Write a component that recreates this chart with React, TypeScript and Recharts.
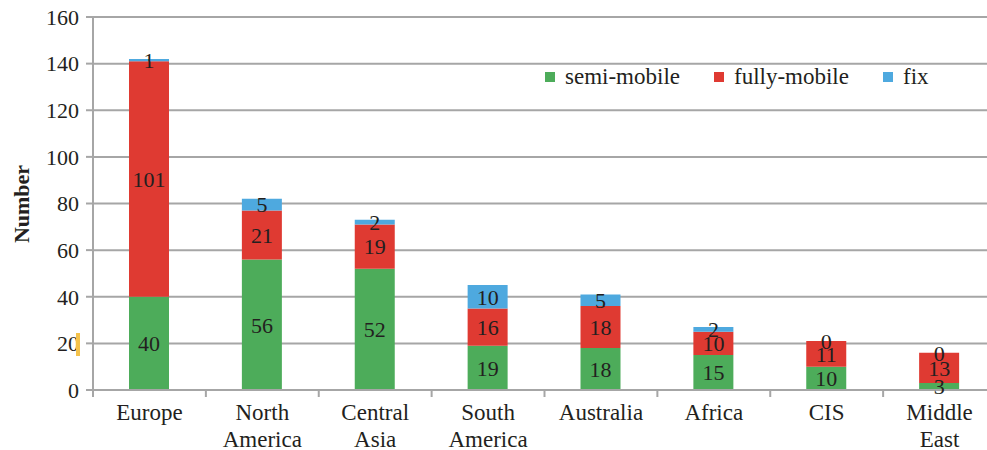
import React from 'react';
import { BarChart, Bar, XAxis, YAxis, CartesianGrid, LabelList } from 'recharts';

const regions = ['Europe', 'North America', 'Central Asia', 'South America', 'Australia', 'Africa', 'CIS', 'Middle East'];
const regionLines = [['Europe'], ['North', 'America'], ['Central', 'Asia'], ['South', 'America'], ['Australia'], ['Africa'], ['CIS'], ['Middle', 'East']];
const semiMobile = [40, 56, 52, 19, 18, 15, 10, 3];
const fullyMobile = [101, 21, 19, 16, 18, 10, 11, 13];
const fix = [1, 5, 2, 10, 5, 2, 0, 0];
const yTicks = [0, 20, 40, 60, 80, 100, 120, 140, 160];

const data = regions.map((region, i) => ({
  region,
  semi: semiMobile[i],
  fully: fullyMobile[i],
  fix: fix[i],
}));

const FONT = "'Liberation Serif', 'DejaVu Serif', 'Times New Roman', Times, serif";
const TEXT = '#231f20';
const GRID = '#a6a6a6';
const GREEN = '#4dac5a';
const RED = '#df3a32';
const BLUE = '#4ea9df';

const CHART_W = 1000;
const PLOT_LEFT = 93;
const PLOT_RIGHT = 4;
const BAND = (CHART_W - PLOT_LEFT - PLOT_RIGHT) / regions.length;

// category label with boundary tick marks (between categories)
function RegionTick(props: any) {
  const { x, y, payload, index } = props;
  const lines = regionLines[index] || [payload.value];
  const left = x - BAND / 2;
  return (
    <g>
      <line x1={left} x2={left} y1={y - 8} y2={y - 1} stroke={GRID} strokeWidth={2} />
      {index === regions.length - 1 && (
        <line x1={x + BAND / 2} x2={x + BAND / 2} y1={y - 8} y2={y - 1} stroke={GRID} strokeWidth={2} />
      )}
      {lines.map((line: string, i: number) => (
        <text
          key={i}
          x={x}
          y={y + 22 + i * 27}
          textAnchor="middle"
          fontFamily={FONT}
          fontSize={23}
          fill={TEXT}
        >
          {line}
        </text>
      ))}
    </g>
  );
}

function YTitle() {
  return (
    <text
      x={29}
      y={204}
      transform="rotate(-90 29 204)"
      textAnchor="middle"
      fontFamily={FONT}
      fontSize={22}
      fontWeight="bold"
      fill={TEXT}
    >
      Number
    </text>
  );
}

// a zero "fix" segment has no rect, so its label sits on top of the red segment
function ZeroFixLabel(props: any) {
  const { x, y, width, value } = props;
  if (value !== 0) return null;
  return (
    <text
      x={x + width / 2}
      y={y}
      dy="0.355em"
      textAnchor="middle"
      fontFamily={FONT}
      fontSize={22}
      fill={TEXT}
    >
      {value}
    </text>
  );
}

const legendItems = [
  { label: 'semi-mobile', color: GREEN },
  { label: 'fully-mobile', color: RED },
  { label: 'fix', color: BLUE },
];

export default function App() {
  const labelStyle = { fill: TEXT, fontSize: 22, fontFamily: FONT };
  return (
    <div
      style={{
        position: 'absolute',
        left: 0,
        top: 0,
        width: 987,
        height: 450,
        overflow: 'hidden',
        background: '#fff',
      }}
    >
      <BarChart
        width={CHART_W}
        height={450}
        data={data}
        margin={{ top: 17, right: PLOT_RIGHT, left: 0, bottom: 0 }}
      >
        <CartesianGrid vertical={false} stroke={GRID} strokeWidth={2} />
        <XAxis
          dataKey="region"
          height={60}
          axisLine={{ stroke: GRID, strokeWidth: 2 }}
          tickLine={false}
          interval={0}
          tick={<RegionTick />}
        />
        <YAxis
          width={PLOT_LEFT}
          domain={[0, 160]}
          ticks={yTicks}
          interval={0}
          axisLine={{ stroke: GRID, strokeWidth: 2 }}
          tickLine={{ stroke: GRID, strokeWidth: 2 }}
          tickSize={7}
          tickMargin={7}
          tick={{ fill: TEXT, fontSize: 22, fontFamily: FONT }}
          label={<YTitle />}
        />
        <Bar dataKey="semi" stackId="a" fill={GREEN} barSize={40} isAnimationActive={false}>
          <LabelList dataKey="semi" position="center" style={labelStyle} />
        </Bar>
        <Bar dataKey="fully" stackId="a" fill={RED} barSize={40} isAnimationActive={false}>
          <LabelList dataKey="fully" position="center" style={labelStyle} />
          <LabelList dataKey="fix" content={<ZeroFixLabel />} />
        </Bar>
        <Bar dataKey="fix" stackId="a" fill={BLUE} barSize={40} isAnimationActive={false}>
          <LabelList dataKey="fix" position="center" style={labelStyle} />
        </Bar>
      </BarChart>

      <div
        style={{
          position: 'absolute',
          left: 545,
          top: 63,
          display: 'flex',
          alignItems: 'center',
          fontFamily: FONT,
          fontSize: 23,
          color: TEXT,
          lineHeight: '28px',
        }}
      >
        {legendItems.map((item, i) => (
          <div key={item.label} style={{ display: 'flex', alignItems: 'center', marginLeft: i === 0 ? 0 : 34 }}>
            <span style={{ width: 10, height: 10, background: item.color, marginRight: 10, display: 'inline-block' }} />
            <span>{item.label}</span>
          </div>
        ))}
      </div>

      <div style={{ position: 'absolute', left: 76, top: 333, width: 4, height: 23, background: '#f4c24b' }} />
    </div>
  );
}
